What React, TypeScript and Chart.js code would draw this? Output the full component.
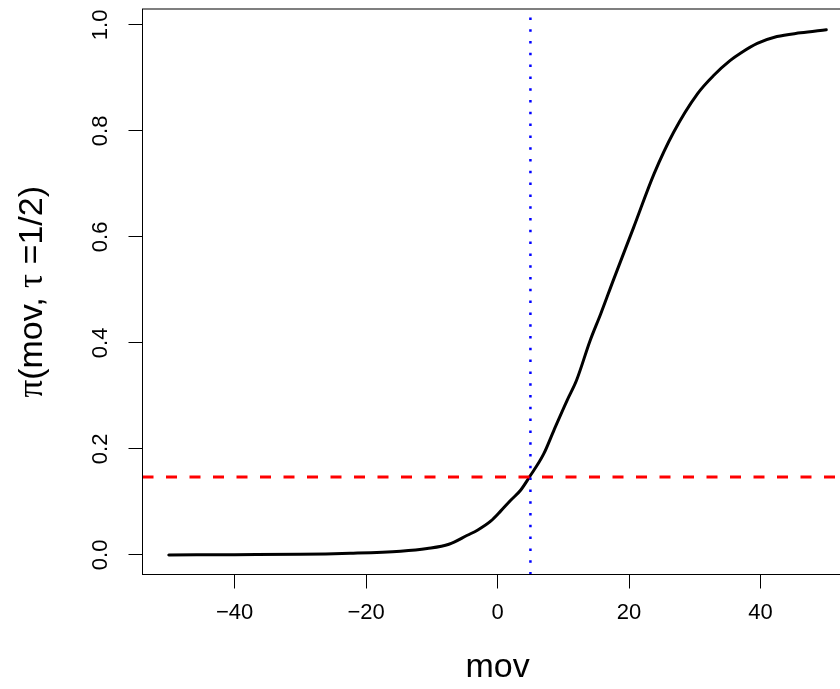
import React, { useEffect, useRef } from "react";
import { Chart, registerables } from "chart.js";

Chart.register(...registerables);

// Curve pi(mov, tau = 1/2)
const movValues = [
  -50, -40, -30, -22.4, -14.75, -10.7, -7.4, -4.6, -3, -1, 0.5, 2, 3.5, 4.8, 7,
  8.6, 10.6, 12, 14.1, 15.7, 17.6, 20.7, 23.8, 26.8, 30.4, 32.9, 35.4, 37, 39.5,
  42.5, 46.1, 50,
];
const piValues = [
  0.0, 0.0005, 0.001, 0.003, 0.007, 0.012, 0.02, 0.037, 0.047, 0.064, 0.083,
  0.103, 0.122, 0.146, 0.19, 0.236, 0.292, 0.329, 0.405, 0.455, 0.518, 0.618,
  0.719, 0.798, 0.87, 0.905, 0.933, 0.947, 0.965, 0.978, 0.985, 0.991,
];

const cutoffPi = 0.147; // red dashed horizontal line
const cutoffMov = 5; // blue dotted vertical line

const xTickValues = [-40, -20, 0, 20, 40];
const xTickLabels = ["\u221240", "\u221220", "0", "20", "40"];
const yTickValues = [0, 0.2, 0.4, 0.6, 0.8, 1.0];
const yTickLabels = ["0.0", "0.2", "0.4", "0.6", "0.8", "1.0"];

const xRange = [-54, 54];
const yRange = [-0.037, 1.03];

const xTitle = "mov";

const SANS = '"Liberation Sans", Arial, Helvetica, sans-serif';
const SERIF = '"Liberation Serif", "DejaVu Serif", serif';

const textPlugin = {
  id: "rTexts",
  afterDraw(chart: any) {
    const ctx = chart.ctx as CanvasRenderingContext2D;
    const area = chart.chartArea;
    const xs = chart.scales.x;
    const ys = chart.scales.y;
    ctx.save();
    // box
    ctx.strokeStyle = "#000";
    ctx.lineWidth = 1;
    ctx.strokeRect(area.left, area.top, area.right - area.left, area.bottom - area.top);

    ctx.fillStyle = "#000";
    ctx.font = `22px ${SANS}`;
    ctx.textAlign = "center";
    ctx.textBaseline = "middle";
    xs.ticks.forEach((t: any) => {
      ctx.fillText(String(t.label), xs.getPixelForValue(t.value), 613);
    });
    ys.ticks.forEach((t: any) => {
      ctx.save();
      ctx.translate(101, ys.getPixelForValue(t.value));
      ctx.rotate(-Math.PI / 2);
      ctx.fillText(String(t.label), 0, 0);
      ctx.restore();
    });

    // x title
    ctx.font = `34px ${SANS}`;
    ctx.fillText(xTitle, (area.left + area.right) / 2, 668);

    // y title: pi(mov, tau =1/2) with symbol glyphs
    const parts: [string, string][] = [
      ["\u03C0", `35px ${SERIF}`],
      ["(mov, ", `34px ${SANS}`],
      ["\u03C4", `35px ${SERIF}`],
      [" =1/2)", `34px ${SANS}`],
    ];
    let total = 0;
    const widths = parts.map(([s, f]) => {
      ctx.font = f;
      const w = ctx.measureText(s).width;
      total += w;
      return w;
    });
    ctx.save();
    ctx.translate(33, (area.top + area.bottom) / 2);
    ctx.rotate(-Math.PI / 2);
    ctx.textAlign = "left";
    let pos = -total / 2;
    parts.forEach(([s, f], i) => {
      ctx.font = f;
      ctx.fillText(s, pos, 0);
      pos += widths[i];
    });
    ctx.restore();
    ctx.restore();
  },
};

export default function App() {
  const ref = useRef<HTMLCanvasElement | null>(null);
  useEffect(() => {
    if (!ref.current) return;
    const curve = movValues.map((m, i) => ({ x: m, y: piValues[i] }));
    const chart = new Chart(ref.current, {
      type: "line",
      data: {
        datasets: [
          {
            data: [
              { x: xRange[0], y: cutoffPi },
              { x: xRange[1], y: cutoffPi },
            ],
            borderColor: "#FF0000",
            borderWidth: 3,
            borderDash: [11, 12.5],
            pointRadius: 0,
            clip: 0,
          },
          {
            data: [
              { x: cutoffMov, y: yRange[0] },
              { x: cutoffMov, y: yRange[1] },
            ],
            borderColor: "#0000FF",
            borderWidth: 2.5,
            borderDash: [2.5, 9.3],
            pointRadius: 0,
            clip: 0,
          },
          {
            data: curve,
            borderColor: "#000000",
            borderWidth: 3,
            borderCapStyle: "round",
            borderJoinStyle: "round",
            pointRadius: 0,
            cubicInterpolationMode: "monotone",
          },
        ],
      },
      options: {
        responsive: false,
        animation: false,
        events: [],
        layout: { padding: { left: 0, top: 9, right: 17.4, bottom: 0 } },
        plugins: {
          legend: { display: false },
          tooltip: { enabled: false },
          title: { display: false },
        },
        scales: {
          x: {
            type: "linear",
            min: xRange[0],
            max: xRange[1],
            afterBuildTicks: (s: any) => {
              s.ticks = xTickValues.map((v) => ({ value: v }));
            },
            afterFit: (s: any) => {
              s.height = 689 - 574.5;
            },
            ticks: {
              display: false,
              callback: (v: any) => xTickLabels[xTickValues.indexOf(Number(v))],
            },
            grid: {
              drawOnChartArea: false,
              drawTicks: true,
              tickLength: 14,
              color: "#000",
              lineWidth: 1,
            },
            border: { display: false },
          },
          y: {
            type: "linear",
            min: yRange[0],
            max: yRange[1],
            afterBuildTicks: (s: any) => {
              s.ticks = yTickValues.map((v) => ({ value: v }));
            },
            afterFit: (s: any) => {
              s.width = 142.5;
            },
            ticks: {
              display: false,
              callback: (v: any) => {
                const i = yTickValues.findIndex((t) => Math.abs(t - Number(v)) < 1e-9);
                return yTickLabels[i];
              },
            },
            grid: {
              drawOnChartArea: false,
              drawTicks: true,
              tickLength: 14,
              color: "#000",
              lineWidth: 1,
            },
            border: { display: false },
          },
        },
      },
      plugins: [textPlugin],
    });
    return () => chart.destroy();
  }, []);

  return (
    <div
      style={{
        position: "fixed",
        left: 0,
        top: 0,
        width: 840,
        height: 689,
        overflow: "hidden",
        background: "#fff",
      }}
    >
      <canvas ref={ref} width={870} height={689} style={{ display: "block" }} />
    </div>
  );
}
